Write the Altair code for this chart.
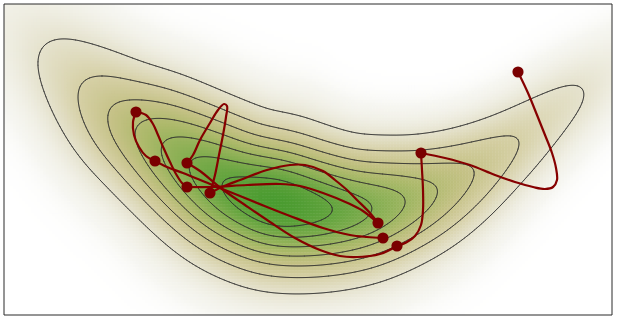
import numpy as np
import pandas as pd
import altair as alt

alt.data_transformers.disable_max_rows()

# ---------------- data (pixel coordinates) ----------------
# sample points (dots)
dot_x = [518, 421, 397, 383, 378, 210, 187, 187, 155, 136]
dot_y = [72, 153, 246, 238, 223, 193, 187, 163, 161, 112]

# trajectory segments between consecutive samples (waypoints)
seg_ab = [(518, 72), (528, 93), (537, 115), (545, 135), (552, 153), (556, 168), (557, 180),
          (553, 187), (545, 189), (533, 187), (515, 182), (495, 175), (470, 165), (445, 158), (421, 153)]
seg_bc = [(421, 153), (422, 170), (423, 190), (423, 210), (421, 225), (415, 236), (407, 242), (397, 246)]
seg_ch = [(397, 246), (380, 254), (357, 257), (340, 256), (320, 250), (295, 238), (270, 222),
          (245, 205), (222, 189), (200, 171), (187, 163)]
seg_hf = [(187, 163), (193, 155), (200, 140), (210, 123), (218, 110), (224, 104), (227, 106),
          (226, 117), (223, 135), (219, 155), (215, 175), (210, 193)]
seg_fe = [(210, 193), (222, 187), (240, 180), (267, 170), (290, 165), (305, 165), (323, 171),
          (335, 180), (347, 190), (357, 200), (370, 213), (378, 223)]
seg_eg = [(378, 223), (363, 211), (350, 204), (323, 193), (300, 186), (280, 184), (247, 185),
          (213, 187), (187, 187)]
seg_gj = [(187, 187), (182, 183), (176, 174), (170, 162), (164, 149), (158, 135), (153, 124),
          (146, 115), (136, 112)]
seg_ji = [(136, 112), (133, 122), (134, 135), (139, 147), (146, 156), (155, 161)]
seg_id = [(155, 161), (167, 167), (183, 173), (210, 184), (240, 196), (267, 207), (290, 216),
          (323, 228), (350, 235), (367, 237), (383, 238)]
segments = [seg_ab, seg_bc, seg_ch, seg_hf, seg_fe, seg_eg, seg_gj, seg_ji, seg_id]

# ridge of the density (contour ends), level and half-width there
ridge_x = [-72, -14, 44, 84, 112, 140, 166, 195, 229, 276, 324, 367, 401, 433, 470, 515, 583, 654, 725]
ridge_y = [-64, -9, 46, 84, 110, 127, 145, 165, 188, 204, 210, 210, 201, 191, 172, 142, 88, 33, -21]
ridge_level = [0.004, 0.03, 0.125, 0.25, 0.375, 0.5, 0.625, 0.75, 0.875, 1.0,
               0.875, 0.75, 0.625, 0.5, 0.375, 0.25, 0.125, 0.03, 0.005]
ridge_width = [34, 35, 35, 36.5, 38.5, 40, 40, 42, 43.5, 45, 42.6, 39.6, 37.5, 36, 31.7, 27, 25, 24, 24]

contour_levels = [0.125, 0.25, 0.375, 0.5, 0.625, 0.75, 0.875]

color_domain = [0, 0.02, 0.125, 0.25, 0.4, 0.55, 0.7, 0.85, 1.0]
color_range = ['#ffffff', '#f6f6f1', '#e5e2cd', '#d6d0a6', '#c4c185', '#acb96a',
               '#8cb055', '#67a540', '#4a9b30']

X0, X1, Y0, Y1 = 4, 612, 4, 315

# ---------------- density field ----------------
rx = np.array(ridge_x, float)
ry = np.array(ridge_y, float)
cum = np.concatenate([[0.0], np.cumsum(np.hypot(np.diff(rx), np.diff(ry)))])
s_samp = np.arange(0, cum[-1], 1.5)


def smooth(a, sig):
    n = int(3 * sig)
    k = np.exp(-0.5 * (np.arange(-n, n + 1) / sig) ** 2)
    k /= k.sum()
    return np.convolve(np.pad(a, n, mode='edge'), k, mode='valid')


sx = smooth(np.interp(s_samp, cum, rx), 12)
sy = smooth(np.interp(s_samp, cum, ry), 12)
s_log = smooth(np.interp(s_samp, cum, np.log(np.array(ridge_level))), 10)
s_log -= s_log.max()
s_wid = smooth(np.interp(s_samp, cum, np.array(ridge_width, float)), 20)


def density(px, py, h=35.0):
    out = np.empty(px.size)
    for st in range(0, px.size, 3000):
        qx = px[st:st + 3000]
        qy = py[st:st + 3000]
        d2 = (qx[:, None] - sx[None, :]) ** 2 + (qy[:, None] - sy[None, :]) ** 2
        m = d2.min(axis=1)
        k = np.exp(-(d2 - m[:, None]) / (2 * h * h))
        ss = (k * s_samp[None, :]).sum(axis=1) / k.sum(axis=1)
        lev = np.exp(np.interp(ss, s_samp, s_log))
        w = np.interp(ss, s_samp, s_wid)
        out[st:st + 3000] = lev * np.exp(-m / (2 * w * w))
    return out


# heat cells
ex = np.linspace(X0, X1, 204)
ey = np.linspace(Y0, Y1, 105)
cx = (ex[:-1] + ex[1:]) / 2
cy = (ey[:-1] + ey[1:]) / 2
CX, CY = np.meshgrid(cx, cy)
D = density(CX.ravel(), CY.ravel())
EX0, EY0 = np.meshgrid(ex[:-1], ey[:-1])
EX1, EY1 = np.meshgrid(ex[1:], ey[1:])
heat = pd.DataFrame({
    'x': np.round(EX0.ravel(), 2), 'x2': np.round(np.minimum(EX1.ravel() + 0.5, X1), 2),
    'y': np.round(EY0.ravel(), 2), 'y2': np.round(np.minimum(EY1.ravel() + 0.5, Y1), 2),
    'd': np.round(D, 4)})

# contour segments (marching squares)
gx = np.arange(X0, X1 + 0.01, 2.0)
gy = np.arange(Y0, Y1 + 0.01, 2.0)
GX, GY = np.meshgrid(gx, gy)
Z = density(GX.ravel(), GY.ravel()).reshape(GX.shape)

rows = []
for lev in contour_levels:
    b = Z > lev
    c = b[:-1, :-1].astype(int) + b[:-1, 1:] + b[1:, :-1] + b[1:, 1:]
    for i, j in np.argwhere((c > 0) & (c < 4)):
        corners = [(i, j), (i, j + 1), (i + 1, j + 1), (i + 1, j)]
        pts = []
        for q in range(4):
            a = corners[q]
            e = corners[(q + 1) % 4]
            za, zb = Z[a], Z[e]
            if (za > lev) != (zb > lev):
                t = (lev - za) / (zb - za)
                pts.append((gx[a[1]] + t * (gx[e[1]] - gx[a[1]]),
                            gy[a[0]] + t * (gy[e[0]] - gy[a[0]])))
        for p in range(0, len(pts) - 1, 2):
            rows.append({'x': round(pts[p][0], 2), 'y': round(pts[p][1], 2),
                         'x2': round(pts[p + 1][0], 2), 'y2': round(pts[p + 1][1], 2)})
contours = pd.DataFrame(rows)

path = pd.DataFrame([{'seg': k, 'i': i, 'x': x, 'y': y}
                     for k, seg in enumerate(segments) for i, (x, y) in enumerate(seg)])
dots = pd.DataFrame({'x': dot_x, 'y': dot_y})

# ---------------- chart ----------------
xs = alt.Scale(domain=[X0, X1], nice=False, zero=False)
ys = alt.Scale(domain=[Y0, Y1], nice=False, zero=False, reverse=True)

heat_layer = alt.Chart(heat).mark_rect(strokeWidth=0, clip=True).encode(
    x=alt.X('x:Q', scale=xs, axis=None), x2='x2:Q',
    y=alt.Y('y:Q', scale=ys, axis=None), y2='y2:Q',
    color=alt.Color('d:Q', scale=alt.Scale(domain=color_domain, range=color_range,
                                           interpolate='rgb'), legend=None))

contour_layer = alt.Chart(contours).mark_rule(color='#2e2e2e', strokeWidth=0.9, opacity=0.9,
                                              strokeCap='round', clip=True).encode(
    x=alt.X('x:Q', scale=xs, axis=None), x2='x2:Q',
    y=alt.Y('y:Q', scale=ys, axis=None), y2='y2:Q')

path_layer = alt.Chart(path).mark_line(color='#860000', strokeWidth=2.2, interpolate='catmull-rom',
                                       strokeCap='round', clip=True).encode(
    x=alt.X('x:Q', scale=xs, axis=None), y=alt.Y('y:Q', scale=ys, axis=None),
    detail='seg:N', order='i:Q')

dot_layer = alt.Chart(dots).mark_circle(color='#7a0000', opacity=1, size=125).encode(
    x=alt.X('x:Q', scale=xs, axis=None), y=alt.Y('y:Q', scale=ys, axis=None))

frame_layer = alt.Chart(pd.DataFrame({'f': [0]})).mark_rect(
    filled=False, stroke='#2a2a2a', strokeWidth=1).encode(
    x=alt.value(0), x2=alt.value(X1 - X0), y=alt.value(0), y2=alt.value(Y1 - Y0))

chart = alt.layer(heat_layer, contour_layer, path_layer, dot_layer, frame_layer).properties(
    width=X1 - X0, height=Y1 - Y0,
    padding={'left': 4, 'top': 4, 'right': 5, 'bottom': 5},
    autosize=alt.AutoSizeParams(type='none'),
    background='white'
).configure_view(stroke=None)

chart.save("out.html", embed_options={"renderer": "svg", "actions": False})
